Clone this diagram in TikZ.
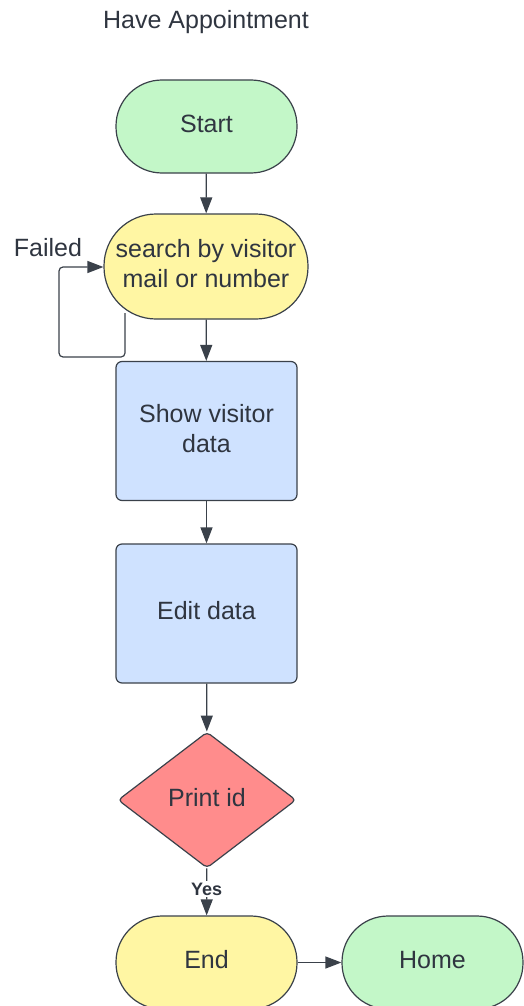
\documentclass[tikz,border=0pt]{standalone}
\usepackage{fontspec}
\setmainfont{Liberation Sans}
\usetikzlibrary{arrows.meta,shapes.geometric}

\definecolor{edge}{HTML}{3A414A}
\definecolor{ink}{HTML}{2F3540}
\definecolor{termgreen}{HTML}{C3F7C8}
\definecolor{termyellow}{HTML}{FFF6A3}
\definecolor{procblue}{HTML}{CFE2FF}
\definecolor{decred}{HTML}{FF8C8C}

\tikzset{
  x=1pt, y=-1pt,
  every node/.style={text=ink, font=\fontsize{25}{30}\selectfont},
  shapetext/.style={text depth=6pt},
  terminal/.style={shapetext, draw=edge, line width=1.2pt, minimum width=181pt, minimum height=93pt,
    rounded corners=46pt, inner sep=0pt, align=center},
  process/.style={shapetext, draw=edge, line width=1.2pt, fill=procblue, minimum width=181pt,
    minimum height=139pt, rounded corners=6pt, inner sep=0pt, align=center},
  decision/.style={shapetext, draw=edge, line width=1.2pt, fill=decred, shape=diamond,
    minimum width=178pt, minimum height=136pt, inner sep=0pt, rounded corners=4pt},
  flow/.style={draw=edge, line width=1.2pt, -{Triangle[length=16pt,width=12pt]}},
  label/.style={font=\fontsize{25}{30}\selectfont},
}

\begin{document}
\begin{tikzpicture}
\useasboundingbox (0,0) rectangle (524,1006);
\clip (0,0) rectangle (524,1006);

\node[label] (title) at (206,22) {Have Appointment};

\node[terminal, fill=termgreen] (start) at (206.5,126.5) {Start};
\node[terminal, fill=termyellow, minimum width=204pt, minimum height=105pt,
  rounded corners=52pt] (search) at (206,266.5) {search by visitor\\mail or number};
\node[process] (show) at (206.5,431) {Show visitor\\data};
\node[process] (edit) at (206.5,613.5) {Edit data};
\node[decision] (print) at (207,800) {Print id};
\node[terminal, fill=termyellow] (end) at (206.5,962.5) {End};
\node[terminal, fill=termgreen] (home) at (432.5,962.5) {Home};

\node[label] (failed) at (48,248) {Failed};

\coordinate (loopa) at (125,313);
\coordinate (loopb) at (125,357);
\coordinate (loopc) at (59,357);
\coordinate (loopd) at (59,267);

\draw[flow] (start) -- (search);
\draw[flow] (search) -- (show);
\draw[flow] (show) -- (edit);
\draw[flow] (edit) -- (print);
\draw[flow] (print) -- node[fill=white, inner sep=2pt, yshift=3pt, font=\bfseries\fontsize{18}{22}\selectfont] (yes) {Yes} (end);
\draw[flow] (end) -- (home);
\draw[flow, rounded corners=4pt] (loopa) -- (loopb) -- (loopc) -- (loopd) -- (search.west |- loopd);
\end{tikzpicture}
\end{document}
